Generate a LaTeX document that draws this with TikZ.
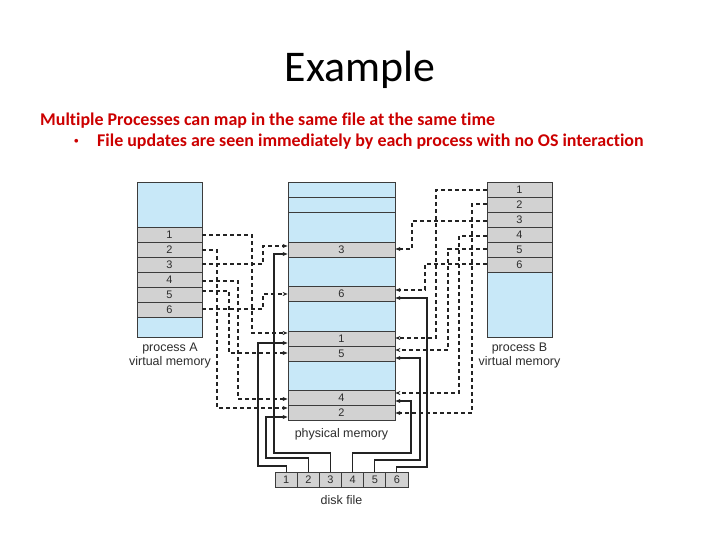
\documentclass[tikz,border=0pt]{standalone}
\usepackage{fontspec}
\setmainfont{Carlito}[Ligatures=NoCommon]
\newfontfamily\diagfont{Liberation Sans}
\usetikzlibrary{arrows.meta}
\definecolor{memblue}{RGB}{200,232,248}
\definecolor{memgray}{RGB}{210,210,210}
\definecolor{edgecol}{RGB}{60,60,60}
\definecolor{redtxt}{RGB}{204,0,0}
\definecolor{lblcol}{RGB}{45,45,45}
\definecolor{wirecol}{RGB}{35,35,35}
\tikzset{
  cell/.style={draw=edgecol, fill=memgray, line width=0.8bp, minimum height=15bp, inner sep=0pt,
    font=\diagfont\fontsize{11}{11}\selectfont, text=lblcol},
  vcell/.style={cell, minimum width=65bp},
  pcell/.style={cell, minimum width=107bp},
  dcell/.style={cell, minimum width=22.17bp},
  region/.style={draw=edgecol, fill=memblue, line width=0.8bp},
  lbl/.style={font=\diagfont\fontsize{12.5}{12.5}\selectfont, text=lblcol, inner sep=0pt},
  redline/.style={anchor=base west, inner sep=0pt, text=redtxt, font=\bfseries\fontsize{18}{18}\selectfont},
  dconn/.style={draw=wirecol, line width=1.1bp, dash pattern=on 4bp off 3bp, -{Stealth[length=5bp,width=4bp]}},
  sconn/.style={draw=wirecol, line width=1.1bp, -{Stealth[length=5bp,width=4bp]}},
}
\begin{document}
\begin{tikzpicture}[x=1bp,y=-1bp]
\useasboundingbox[fill=white] (0,0) rectangle (720,540);

% title and text
\node[font=\fontsize{44}{44}\selectfont, anchor=base] (title) at (360,82) {Example};
\node[redline] (l1) at (40,126) {Multiple Processes can map in the same file at the same time};
\node[redline, font=\diagfont\bfseries\fontsize{13}{13}\selectfont] (bul) at (74,146) {•};
\node[redline] (l2) at (97,147) {File updates are seen immediately by each process with no OS interaction};

% process A
\draw[region] (137,182) rectangle (202,337);
\node[vcell] (A1) at (169.5,234.5) {1};
\node[vcell] (A2) at (169.5,249.5) {2};
\node[vcell] (A3) at (169.5,264.5) {3};
\node[vcell] (A4) at (169.5,279.5) {4};
\node[vcell] (A5) at (169.5,294.5) {5};
\node[vcell] (A6) at (169.5,309.5) {6};
\node[lbl] (Alab1) at (170,349) {process A};
\node[lbl] (Alab2) at (170,362) {virtual memory};

% physical memory
\draw[region] (288,182) rectangle (395,420);
\draw[edgecol, line width=0.8bp] (288,197) -- (395,197) (288,212) -- (395,212);
\node[pcell] (P3) at (341.5,249.5) {3};
\node[pcell] (P6) at (341.5,293.5) {6};
\node[pcell] (P1) at (341.5,338.5) {1};
\node[pcell] (P5) at (341.5,353.5) {5};
\node[pcell] (P4) at (341.5,397.5) {4};
\node[pcell] (P2) at (341.5,412.5) {2};
\node[lbl] (Plab) at (341.5,434) {physical memory};

% process B
\draw[region] (487,182) rectangle (552,337);
\node[vcell] (B1) at (519.5,189.5) {1};
\node[vcell] (B2) at (519.5,204.5) {2};
\node[vcell] (B3) at (519.5,219.5) {3};
\node[vcell] (B4) at (519.5,234.5) {4};
\node[vcell] (B5) at (519.5,249.5) {5};
\node[vcell] (B6) at (519.5,264.5) {6};
\node[lbl] (Blab1) at (519.5,349) {process B};
\node[lbl] (Blab2) at (519.5,362) {virtual memory};

% disk file
\node[dcell] (D1) at (286.1,479.5) {1};
\node[dcell] (D2) at (308.3,479.5) {2};
\node[dcell] (D3) at (330.4,479.5) {3};
\node[dcell] (D4) at (352.6,479.5) {4};
\node[dcell] (D5) at (374.8,479.5) {5};
\node[dcell] (D6) at (396.9,479.5) {6};
\node[lbl] (Dlab) at (341.5,500) {disk file};

% process A -> physical (dashed)
\draw[dconn] (A1.east |- 0,235) -| (252,333) -- (P1.west |- 0,333);
\draw[dconn] (A2.east |- 0,250) -| (217,408) -- (P2.west |- 0,408);
\draw[dconn] (A3.east |- 0,264) -| (263,246) -- (P3.west |- 0,246);
\draw[dconn] (A4.east |- 0,281) -| (238,399) -- (P4.west |- 0,399);
\draw[dconn] (A5.east |- 0,291) -| (229,353) -- (P5.west |- 0,353);
\draw[dconn] (A6.east |- 0,309) -| (263,294) -- (P6.west |- 0,294);

% process B -> physical (dashed)
\draw[dconn] (B1.west |- 0,190) -| (436,338) -- (P1.east |- 0,338);
\draw[dconn] (B2.west |- 0,204) -| (472,413) -- (P2.east |- 0,413);
\draw[dconn] (B3.west |- 0,221) -| (412,249) -- (P3.east |- 0,249);
\draw[dconn] (B4.west |- 0,236) -| (459,393) -- (P4.east |- 0,393);
\draw[dconn] (B5.west |- 0,249) -| (448,350) -- (P5.east |- 0,350);
\draw[dconn] (B6.west |- 0,264) -| (425,290) -- (P6.east |- 0,290);

% disk -> physical (solid)
\draw[sconn] (D1.north) |- (258,466) |- (P1.west |- 0,343);
\draw[sconn] (D2.north) |- (266,458) |- (P2.west |- 0,417);
\draw[sconn] (D3.north) |- (274,453) |- (P3.west |- 0,254);
\draw[sconn] (D4.north) |- (411,453) |- (P4.east |- 0,401);
\draw[sconn] (D5.north) |- (420,460) |- (P5.east |- 0,358);
\draw[sconn] (D6.north) |- (427,467) |- (P6.east |- 0,298);
\end{tikzpicture}
\end{document}
